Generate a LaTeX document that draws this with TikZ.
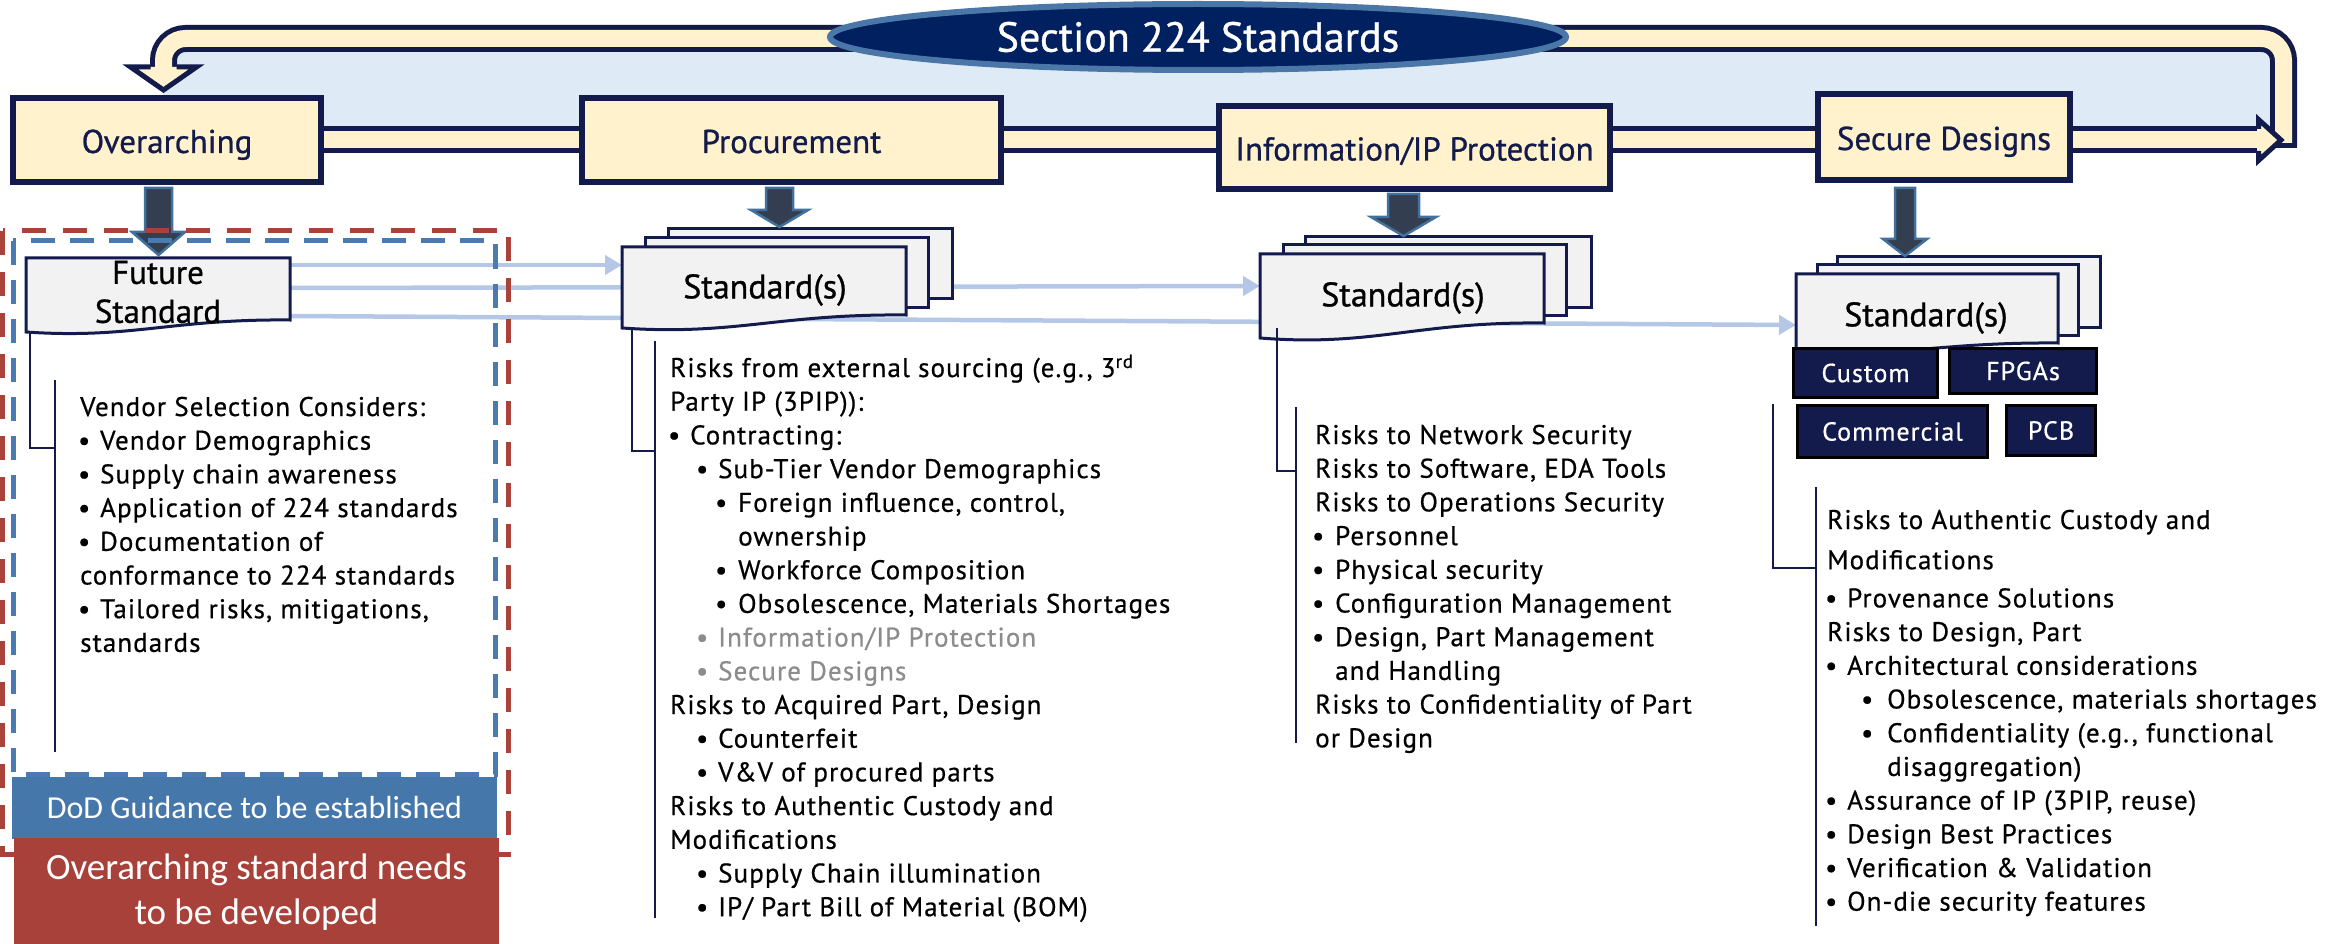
\documentclass[tikz,border=0pt]{standalone}
\usepackage{fontspec}
\setmainfont{PT Sans}[FakeBold=0.6]
\newfontfamily\wf[LetterSpace=4,FakeBold=0.6]{PT Sans}
\newfontfamily\hf[FakeBold=0.8]{PT Sans}
\newfontfamily\cf{Carlito}
\usetikzlibrary{arrows.meta,calc,shapes.geometric}
\pgfdeclarelayer{bg}
\pgfsetlayers{bg,main}
\definecolor{navy}{HTML}{131B4C}
\definecolor{cream}{HTML}{FFF2CC}
\definecolor{skyfill}{HTML}{DEEBF7}
\definecolor{ellfill}{HTML}{002060}
\definecolor{ellline}{HTML}{4A76A8}
\definecolor{blkfill}{HTML}{333F50}
\definecolor{blkline}{HTML}{41719C}
\definecolor{docfill}{HTML}{F2F2F2}
\definecolor{ltarrow}{HTML}{B4C7E7}
\definecolor{dashblue}{HTML}{4A7AB0}
\definecolor{dashred}{HTML}{A9433A}
\definecolor{boxblue}{HTML}{4677AB}
\definecolor{boxred}{HTML}{A8413A}
\definecolor{chipc}{HTML}{131B4D}
\definecolor{greytext}{HTML}{8C8C8C}
\newcommand\fsz[2]{\fontsize{#1}{#2}\selectfont}
\newcommand\Bul[3]{\hspace*{#1pt}\makebox[0pt][c]{\textbullet}\hspace*{#2pt}#3}
\newcommand\DocShape[6][]{%
  \pgfmathsetmacro\DSw{#3-#2}%
  \pgfmathsetmacro\DSd{#5-#6}%
  \draw[#1] (#2,#4) -- (#3,#4) -- (#3,#6) .. controls ({#2+0.55*\DSw},{#6-0.1*\DSd}) and ({#2+0.4*\DSw},{#5+0.6*\DSd}) .. (#2,#5) -- cycle;}
\tikzset{
  hdr/.style={draw=navy, line width=6pt, fill=cream, text=navy, inner sep=0pt, text height=26pt, text depth=0pt, font=\hf\fsz{33}{38}},
  docst/.style={draw=navy, line width=3pt, fill=docfill},
  ghost/.style={inner sep=0pt, outer sep=0pt},
  doctxt/.style={inner sep=0pt, text=black, font=\hf\fsz{34}{39}, align=center},
  lt/.style={draw=ltarrow, line width=4.5pt, -{Triangle[length=17pt,width=19pt]}},
  blk/.style={fill=blkfill, draw=blkline, line width=2.5pt},
  brk/.style={draw=navy, line width=2.5pt},
  col/.style={anchor=base west, inner sep=0pt, text=black, font=\wf\fsz{27}{33.7}},
  chip/.style={fill=chipc, draw=black, line width=2.5pt, text=white, inner sep=0pt, font=\wf\fsz{26}{30}},
  band/.style={draw=navy, line width=5pt, double=cream, double distance=17pt}
}
\begin{document}
\begin{tikzpicture}[x=1pt,y=-1pt,line join=miter]
\useasboundingbox (0,0) rectangle (2330,944);

% header boxes
\node[hdr, minimum width=308pt, minimum height=84pt] (ov) at (167,140) {Overarching};
\node[hdr, minimum width=419pt, minimum height=84pt] (pr) at (791.5,140) {Procurement};
\node[hdr, minimum width=391pt, minimum height=83pt] (ip) at (1414.5,147.5) {Information/IP Protection};
\node[hdr, minimum width=252pt, minimum height=86pt] (sd) at (1944,137) {Secure Designs};

\begin{pgfonlayer}{bg}
  \fill[skyfill] (163,38) rectangle (2283,141);
  \draw[band, rounded corners=22pt] (2283.5,146) -- (2283.5,38.5) -- (163.5,38.5) -- (163.5,67);
  \draw[navy, line width=5pt] (2270,145.5) -- (2297,145.5);
  \fill[cream] (130.5,67) -- (196.5,67) -- (163.5,90) -- cycle;
  \draw[navy, line width=5pt] (150.5,67) -- (130.5,67) -- (163.5,90) -- (196.5,67) -- (176.5,67);
  \draw[band] (ov.center) -- (2258,140);
  \fill[cream] (2257,119.5) -- (2281,140) -- (2257,160.5) -- cycle;
  \draw[navy, line width=5pt] (2258.5,129) -- (2258.5,119.5) -- (2281,140) -- (2258.5,160.5) -- (2258.5,151);
\end{pgfonlayer}

% title
\node[draw=ellline, line width=6pt, fill=ellfill, ellipse, minimum width=736pt, minimum height=66pt, inner sep=0pt, text=white, font=\hf\fsz{42}{48}] (title) at (1198,37) {Section 224 Standards};

% invisible front document nodes
\node[ghost, minimum width=264pt, minimum height=62pt] (fs) at (158,289) {};
\node[ghost, minimum width=284pt, minimum height=68pt] (ps) at (764,281) {};
\node[ghost, minimum width=284pt, minimum height=69pt] (is) at (1402,288.5) {};
\node[ghost, minimum width=262pt, minimum height=69pt] (ss) at (1927,308.5) {};

% light arrows (behind stacks)
\draw[lt] (fs.east |- 0,265) -- (ps.west |- 0,265);
\draw[lt] (fs.east |- 0,288) -- (is.west |- 0,286);
\draw[lt] (fs.east |- 0,316) -- (ss.west |- 0,325);

% stacks
\draw[docst] (668,229) rectangle (952,298);
\draw[docst] (645,238) rectangle (928,307);
\DocShape[docst]{622}{906}{247}{328}{315}
\draw[docst] (1305,237) rectangle (1591,307);
\draw[docst] (1283,245) rectangle (1566,315);
\DocShape[docst]{1260}{1544}{254}{338}{323}
\draw[docst] (1837,257) rectangle (2100,327);
\draw[docst] (1817,265) rectangle (2078,335);
\DocShape[docst]{1796}{2058}{274}{352}{343}
\DocShape[docst]{26}{290}{258}{332}{320}

\node[doctxt, font=\hf\fsz{33}{39}] (fst) at (158,292) {Future\\Standard};
\node[doctxt] (pst) at (765,290) {Standard(s)};
\node[doctxt] (ist) at (1403,298) {Standard(s)};
\node[doctxt] (sst) at (1926,318) {Standard(s)};

% block arrows
\draw[blk] (145,188) -- (172,188) -- (172,232) -- (185,232) -- (158.5,255) -- (132,232) -- (145,232) -- cycle;
\draw[blk] (766,188) -- (793,188) -- (793,210) -- (808,210) -- (779.5,227) -- (751,210) -- (766,210) -- cycle;
\draw[blk] (1388,194) -- (1419,194) -- (1419,217) -- (1436,217) -- (1403.5,236) -- (1371,217) -- (1388,217) -- cycle;
\draw[blk] (1895,188) -- (1915,188) -- (1915,239) -- (1927,239) -- (1905,256) -- (1883,239) -- (1895,239) -- cycle;

% chips
\node[chip, minimum width=144pt, minimum height=49pt] (cu) at (1865.5,373) {Custom};
\node[chip, minimum width=147pt, minimum height=45pt] (fp) at (2023,371) {FPGAs};
\node[chip, minimum width=190pt, minimum height=52pt] (co) at (1892.5,431.5) {Commercial};
\node[chip, minimum width=89pt, minimum height=50pt] (pcb) at (2051,430.5) {PCB};

% dashed frames
\draw[dashred, line width=5pt, dash pattern=on 24pt off 17pt] (2.5,231) rectangle (508,854);
\draw[dashblue, line width=5pt, dash pattern=on 24pt off 15pt] (13,241) rectangle (495.5,774);

% bottom boxes
\node[fill=boxblue, minimum width=485pt, minimum height=62pt, inner sep=0pt, text=white, font=\cf\fsz{32}{38}] (dod) at (254.5,808) {DoD Guidance to be established};
\node[fill=boxred, minimum width=485pt, minimum height=108pt, inner sep=0pt, align=center, text=white, font=\cf\fsz{37}{45}] (ovn) at (256.5,892) {Overarching standard needs\\to be developed};

% brackets
\draw[brk] (30,331) -- (30,448) -- (55,448);
\draw[brk] (55,380) -- (55,752);
\draw[brk] (632,329) -- (632,451) -- (655,451);
\draw[brk] (655,341) -- (655,918);
\draw[brk] (1277,328) -- (1277,471) -- (1296,471);
\draw[brk] (1296,407) -- (1296,743);
\draw[brk] (1773,404) -- (1773,568) -- (1816,568);
\draw[brk] (1816,487) -- (1816,926);

% text columns
\node[col] (fcol) at (80,416) {\parbox[t]{420pt}{\raggedright
Vendor Selection Considers:\\
\Bul{4}{16}{Vendor Demographics}\\
\Bul{4}{16}{Supply chain awareness}\\
\Bul{4}{16}{Application of 224 standards}\\
\Bul{4}{16}{Documentation of}\\
conformance to 224 standards\\
\Bul{4}{16}{Tailored risks, mitigations,}\\
standards}};

\node[col] (pcol) at (670,377) {\parbox[t]{700pt}{\raggedright
Risks from external sourcing (e.g., 3\textsuperscript{rd}\\
Party IP (3PIP)):\\
\Bul{4}{16}{Contracting:}\\
\Bul{32}{16}{Sub-Tier Vendor Demographics}\\
\Bul{51}{17}{Foreign influence, control,}\\
\hspace*{68pt}ownership\\
\Bul{51}{17}{Workforce Composition}\\
\Bul{51}{17}{Obsolescence, Materials Shortages}\\
{\color{greytext}\Bul{32}{16}{Information/IP Protection}}\\
{\color{greytext}\Bul{32}{16}{Secure Designs}}\\
Risks to Acquired Part, Design\\
\Bul{32}{16}{Counterfeit}\\
\Bul{32}{16}{V\&V of procured parts}\\
Risks to Authentic Custody and\\
Modifications\\
\Bul{32}{16}{Supply Chain illumination}\\
\Bul{32}{16}{IP/ Part Bill of Material (BOM)}}};

\node[col] (icol) at (1315,444) {\parbox[t]{700pt}{\raggedright
Risks to Network Security\\
Risks to Software, EDA Tools\\
Risks to Operations Security\\
\Bul{3}{17}{Personnel}\\
\Bul{3}{17}{Physical security}\\
\Bul{3}{17}{Configuration Management}\\
\Bul{3}{17}{Design, Part Management}\\
\hspace*{20pt}and Handling\\
Risks to Confidentiality of Part\\
or Design}};

\node[col] (scol) at (1827,529) {\parbox[t]{700pt}{\raggedright
Risks to Authentic Custody and\\[6.5pt]
Modifications\\[4.5pt]
\Bul{4}{16}{Provenance Solutions}\\
Risks to Design, Part\\
\Bul{4}{16}{Architectural considerations}\\
\Bul{40}{20}{Obsolescence, materials shortages}\\
\Bul{40}{20}{Confidentiality (e.g., functional}\\
\hspace*{60pt}disaggregation)\\
\Bul{4}{16}{Assurance of IP (3PIP, reuse)}\\
\Bul{4}{16}{Design Best Practices}\\
\Bul{4}{16}{Verification \& Validation}\\
\Bul{4}{16}{On-die security features}}};
\end{tikzpicture}
\end{document}
